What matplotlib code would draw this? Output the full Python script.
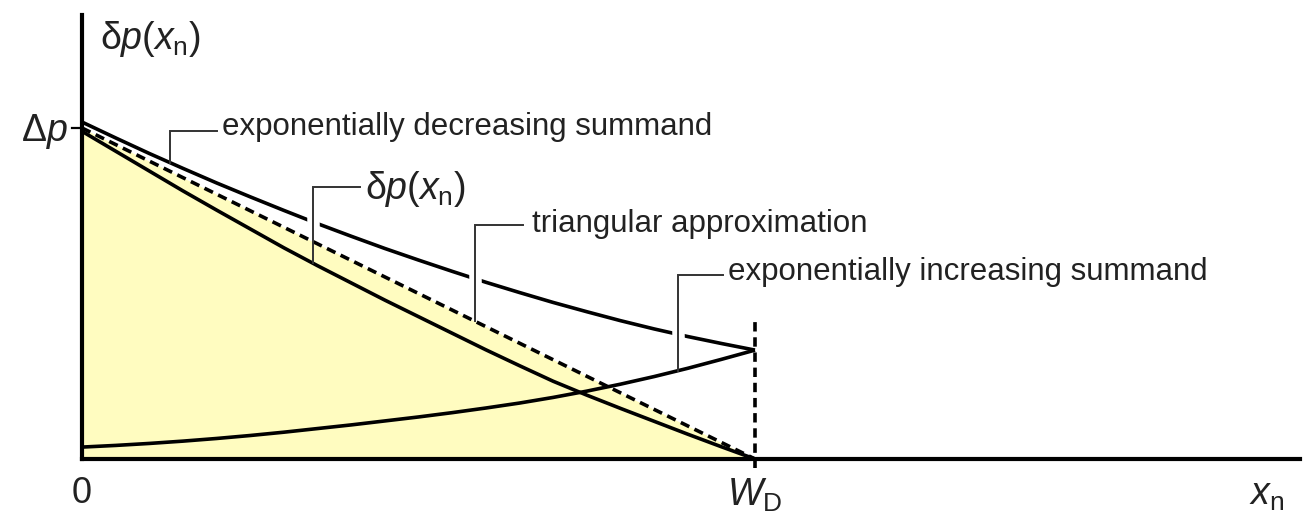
import numpy as np
import matplotlib
matplotlib.use("Agg")
import matplotlib.pyplot as plt

plt.rcParams['font.family'] = ['Liberation Sans', 'DejaVu Sans']
plt.rcParams['mathtext.fontset'] = 'custom'
plt.rcParams['mathtext.rm'] = 'Liberation Sans'
plt.rcParams['mathtext.it'] = 'Liberation Sans:italic'
plt.rcParams['mathtext.bf'] = 'Liberation Sans:bold'

# ---- data (x in units of W_D, y in units of Δp) ----
x_pos = [0.00, 0.05, 0.10, 0.15, 0.20, 0.25, 0.30, 0.35, 0.40, 0.45, 0.50,
         0.55, 0.60, 0.65, 0.70, 0.75, 0.80, 0.85, 0.90, 0.95, 1.00]
dec_summand = [1.018, 0.970, 0.923, 0.878, 0.834, 0.792, 0.751, 0.711, 0.673, 0.636, 0.601,
               0.567, 0.534, 0.503, 0.473, 0.445, 0.418, 0.393, 0.370, 0.349, 0.329]
inc_summand = [0.036, 0.041, 0.047, 0.054, 0.062, 0.071, 0.081, 0.092, 0.103, 0.115, 0.127,
               0.140, 0.154, 0.169, 0.186, 0.205, 0.226, 0.249, 0.274, 0.301, 0.329]
delta_p = [0.990, 0.930, 0.870, 0.810, 0.752, 0.695, 0.638, 0.584, 0.532, 0.480, 0.430,
           0.380, 0.330, 0.282, 0.235, 0.193, 0.153, 0.114, 0.075, 0.037, 0.000]
tri_x = [0.0, 1.0]
tri_y = [1.0, 0.0]
wd_line_y = [-0.027, 0.414]

dp_label = r'δ$\mathit{p}$($\mathit{x}_\mathrm{n}$)'
labels = {
    'dec': 'exponentially decreasing summand',
    'dp': dp_label,
    'tri': 'triangular approximation',
    'inc': 'exponentially increasing summand',
}

fig = plt.figure(figsize=(13.12, 5.23), dpi=100)
ax = fig.add_axes([82/1312, (523-459)/523, (1300-82)/1312, (459-15)/523])
ax.set_xlim(0, (1300-82)/673)
ax.set_ylim(0, (459-15)/331)
for s in ['top', 'right']:
    ax.spines[s].set_visible(False)
for s in ['left', 'bottom']:
    ax.spines[s].set_linewidth(3.0)
    ax.spines[s].set_zorder(6)
ax.set_xticks([])
ax.set_yticks([])

yellow = '#fffcc0'
ax.fill_between(tri_x, tri_y, 0, color=yellow, lw=0, zorder=1)

lw = 2.6
ax.plot(x_pos, dec_summand, color='black', lw=lw, zorder=3, solid_capstyle='butt')
ax.plot(x_pos, inc_summand, color='black', lw=lw, zorder=3, solid_capstyle='butt')
ax.plot(x_pos, delta_p, color='black', lw=lw, zorder=3, solid_capstyle='butt')
ax.plot(tri_x, tri_y, color='black', lw=lw, ls=(0, (2.6, 1.6)), zorder=3)
ax.plot([1.0, 1.0], wd_line_y, color='black', lw=lw, ls=(0, (2.6, 1.6)), zorder=3,
        clip_on=False)

leader_col = '#333333'
fs = 22.5
fs_math = 27
leaders = [
    # curve x, leader y, end x, text x, text y, curve, crossed curve, label, size
    (0.131, 0.991, 0.2006, 0.208, 1.003, (x_pos, dec_summand), None, labels['dec'], fs),
    (0.343, 0.822, 0.413, 0.420, 0.815, (x_pos, delta_p), dec_summand, labels['dp'], fs_math),
    (0.584, 0.707, 0.655, 0.668, 0.710, (tri_x, tri_y), dec_summand, labels['tri'], fs),
    (0.886, 0.556, 0.952, 0.960, 0.565, (x_pos, inc_summand), dec_summand, labels['inc'], fs),
]
for cx, ly, hx, tx, ty, (cxs, cys), gap, txt, size in leaders:
    cy = float(np.interp(cx, cxs, cys))
    if gap is not None:
        gy = float(np.interp(cx, x_pos, gap))
        ax.plot([cx, cx], [gy - 0.04, gy + 0.04], color='white', lw=9,
                solid_capstyle='butt', zorder=4)
    ax.plot([cx, cx, hx], [cy, ly, ly], color=leader_col, lw=1.4, zorder=5,
            solid_joinstyle='miter')
    ax.text(tx, ty, txt, fontsize=size, ha='left', va='center', color='#222222', zorder=5)

# axis annotations
ax.text(0.027, 1.27, dp_label, fontsize=fs_math,
        ha='left', va='center', color='#222222', clip_on=False)
ax.plot([-0.015, 0.0], [1.0, 1.0], color='black', lw=1.6, clip_on=False, zorder=5)
ax.text(-0.022, 0.99, r'Δ$\mathit{p}$', fontsize=27, ha='right', va='center',
        color='#222222', clip_on=False)
ax.text(0.0, -0.105, '0', fontsize=26, ha='center', va='center', color='#222222',
        clip_on=False)
ax.text(1.0, -0.11, r'$\mathit{W}_\mathrm{D}$', fontsize=fs_math, ha='center', va='center',
        color='#222222', clip_on=False)
ax.text((1267-82)/673, -0.11, r'$\mathit{x}_\mathrm{n}$', fontsize=fs_math, ha='center',
        va='center', color='#222222', clip_on=False)

fig.savefig('out.png', dpi=100, facecolor='white')
